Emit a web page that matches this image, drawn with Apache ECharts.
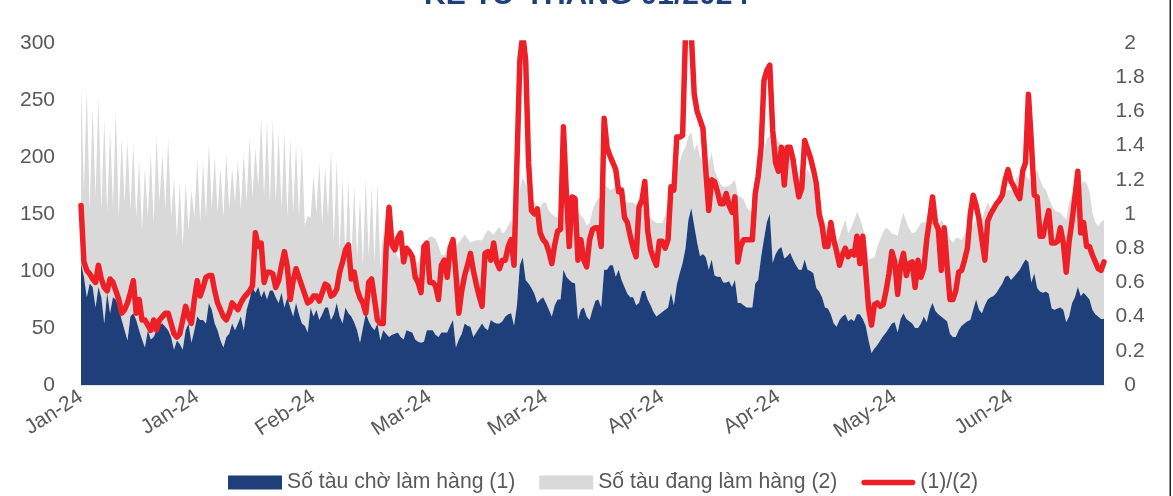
<!DOCTYPE html>
<html>
<head>
<meta charset="utf-8">
<script src="https://cdn.jsdelivr.net/npm/echarts@6/dist/echarts.min.js"></script>
<style>
  html, body { margin: 0; padding: 0; background: #ffffff; }
  #chart { width: 1173px; height: 496px; }
</style>
</head>
<body>
<div id="chart"></div>
<script>
// Twice-daily readings starting 1 Jan 2024
const START_DATE = Date.UTC(2024, 0, 1);
const STEP_HOURS = 12;
const MONTHS = ['Jan', 'Feb', 'Mar', 'Apr', 'May', 'Jun', 'Jul', 'Aug', 'Sep', 'Oct', 'Nov', 'Dec'];

// Số tàu chờ làm hàng (1)
const waiting = [
  107,95,77,89,86,68,86,77,54,81,
  63,77,75,68,57,48,39,60,63,57,
  48,40,33,48,40,42,48,52,54,51,
  48,42,31,39,36,31,48,54,37,48,
  60,57,57,54,72,66,54,48,39,33,
  42,45,54,48,54,60,48,66,75,86,
  81,86,77,83,75,83,83,77,72,81,
  68,77,68,60,72,62,54,52,46,68,
  60,66,57,62,68,68,57,62,72,60,
  54,68,63,60,55,48,37,50,63,56,
  51,48,54,39,48,
  45,42,44,45,46,
  42,40,48,47,46,40,38,37,38,48,
  48,48,44,42,46,46,46,52,57,33,
  40,45,54,52,51,42,46,50,54,50,
  48,57,55,54,54,56,60,62,63,52,
  70,105,112,92,89,85,80,72,75,77,
  72,66,60,70,75,75,101,95,92,90,
  89,57,66,68,60,57,66,74,75,68,
  101,101,105,105,95,101,92,86,80,77,
  77,70,72,82,83,75,70,64,60,62,
  64,66,68,81,70,88,98,107,120,145,
  155,140,125,113,115,112,101,110,96,95,
  95,90,90,91,86,92,72,72,70,68,
  68,68,89,92,112,128,143,150,107,115,
  119,121,111,113,116,110,105,101,101,110,
  101,100,98,85,82,77,68,67,62,54,
  51,57,60,62,56,58,56,62,62,58,
  52,39,28,32,35,39,43,46,50,54,
  55,46,58,63,58,56,54,50,50,54,
  60,55,66,72,65,62,60,58,56,45,
  42,42,48,52,54,56,57,66,75,66,
  63,70,75,77,78,81,85,89,95,96,
  92,95,98,101,106,110,108,90,98,85,
  82,81,82,80,67,66,67,68,66,55,
  60,72,77,86,78,81,78,75,66,62,
  60,58,58
];

// Số tàu đang làm hàng (2)
const working = [
  156,76,182,65,158,97,166,77,178,70,
  161,79,166,79,159,112,175,94,148,90,
  149,96,157,99,163,100,170,108,149,103,
  168,105,150,91,141,90,130,82,134,99,
  138,85,138,93,140,88,146,103,152,114,
  161,109,136,112,143,94,155,94,143,79,
  127,88,158,82,155,77,149,83,150,73,
  154,70,147,91,139,85,155,88,102,79,
  124,85,138,78,124,79,149,63,125,58,
  128,44,117,48,119,64,128,55,117,56,
  123,60,123,65,88,
  65,76,81,75,66,
  68,75,73,69,66,69,69,79,87,79,
  82,82,84,80,68,68,72,68,64,90,
  85,83,78,76,74,84,81,77,73,82,
  88,77,77,82,85,77,75,78,82,80,
  80,67,70,84,81,78,80,85,81,83,
  88,87,90,78,72,72,46,55,63,65,
  64,95,83,78,80,85,87,86,89,94,
  74,73,66,67,80,76,78,75,80,83,
  83,88,84,73,70,75,76,80,82,80,
  78,83,87,81,105,99,98,97,89,73,
  67,65,87,87,81,78,94,94,92,87,
  81,84,84,84,91,88,94,93,93,88,
  85,85,73,80,83,78,73,69,114,105,
  95,89,96,93,86,91,87,82,79,74,
  88,84,80,85,78,71,75,69,70,73,
  74,73,78,83,77,80,88,90,84,80,
  76,71,83,80,86,89,91,92,86,79,
  77,85,84,88,85,81,79,84,88,88,
  83,87,79,75,77,78,85,83,80,83,
  83,87,81,75,78,80,81,74,71,80,
  82,83,85,78,78,81,80,79,75,75,
  79,81,84,83,80,74,73,87,85,104,
  98,93,89,84,91,87,85,83,82,90,
  100,95,94,87,97,98,99,95,85,81,
  79,85,87
];

// (1)/(2)
const ratio = [
  1.05,0.72,0.67,0.65,0.62,0.60,0.70,0.62,0.57,0.55,
  0.62,0.60,0.55,0.50,0.42,0.44,0.48,0.54,0.61,0.42,
  0.50,0.38,0.38,0.35,0.32,0.38,0.32,0.38,0.40,0.42,
  0.42,0.36,0.30,0.28,0.30,0.38,0.46,0.40,0.36,0.50,
  0.61,0.52,0.57,0.63,0.64,0.64,0.55,0.48,0.44,0.40,
  0.38,0.42,0.48,0.46,0.44,0.48,0.51,0.53,0.55,0.58,
  0.89,0.81,0.83,0.60,0.66,0.66,0.65,0.57,0.61,0.70,
  0.78,0.69,0.50,0.61,0.68,0.63,0.58,0.53,0.48,0.49,
  0.52,0.52,0.49,0.54,0.59,0.58,0.52,0.53,0.56,0.66,
  0.72,0.79,0.82,0.62,0.66,0.56,0.51,0.48,0.42,0.60,
  0.62,0.50,0.38,0.36,0.36,0.80,1.04,0.82,0.79,0.86,
  0.89,0.72,0.80,0.78,0.75,0.63,0.60,0.54,0.81,0.83,
  0.60,0.60,0.58,0.50,0.70,0.73,0.63,0.80,0.85,0.65,
  0.42,0.55,0.64,0.70,0.77,0.67,0.59,0.52,0.46,0.77,
  0.78,0.73,0.83,0.72,0.68,0.73,0.73,0.81,0.85,0.70,
  1.30,1.90,2.05,1.90,1.30,1.02,1.00,1.03,0.89,0.85,
  0.83,0.78,0.71,0.82,0.90,0.91,1.51,1.12,0.81,1.10,
  1.09,0.73,0.85,0.73,0.69,0.85,0.91,0.92,0.92,0.81,
  1.56,1.39,1.34,1.30,1.26,1.13,1.14,0.98,0.95,0.87,
  0.80,0.75,1.04,1.08,1.19,0.90,0.79,0.74,0.70,0.84,
  0.84,0.80,0.85,1.16,1.14,1.45,1.45,1.46,2.05,2.05,
  2.05,1.70,1.60,1.55,1.50,1.25,1.02,1.20,1.19,1.13,
  1.06,1.06,1.12,1.05,1.01,1.10,0.72,0.81,0.85,0.85,
  0.85,0.85,1.12,1.22,1.39,1.78,1.84,1.87,1.49,1.30,
  1.25,1.39,1.17,1.39,1.39,1.32,1.20,1.10,1.15,1.43,
  1.38,1.33,1.26,1.18,1.00,0.93,0.81,0.81,0.95,0.85,
  0.78,0.70,0.76,0.80,0.75,0.78,0.76,0.87,0.71,0.87,
  0.67,0.45,0.35,0.47,0.48,0.46,0.47,0.55,0.65,0.78,
  0.72,0.53,0.70,0.77,0.64,0.71,0.72,0.57,0.73,0.63,
  0.68,0.85,0.97,1.10,0.95,0.91,0.67,0.92,0.70,0.50,
  0.50,0.55,0.66,0.67,0.73,0.80,1.00,1.11,1.05,0.97,
  0.85,0.73,0.96,1.00,1.03,1.06,1.08,1.11,1.20,1.26,
  1.19,1.16,1.12,1.09,1.25,1.30,1.70,1.42,1.11,1.10,
  0.87,0.87,0.95,1.02,0.83,0.83,0.84,0.92,0.83,0.66,
  0.84,0.96,1.10,1.25,0.89,0.95,0.81,0.81,0.76,0.72,
  0.68,0.67,0.72
];

// Axis scales
const LEFT_AXIS = { min: 0, max: 300, interval: 50 };
const RIGHT_AXIS = { min: 0, max: 2, interval: 0.2 };
const LABEL_EVERY = 40; // one date label every 20 days

const SERIES_NAMES = ['Số tàu chờ làm hàng (1)', 'Số tàu đang làm hàng (2)', '(1)/(2)'];
const TITLE_TEXT = 'KỂ TỪ THÁNG 01/2024';

const categories = waiting.map((_, i) => {
  const d = new Date(START_DATE + i * STEP_HOURS * 3600 * 1000);
  return d.toISOString().slice(0, 10);
});

const NAVY = '#1f3f7b';
const GREY = '#d9d9d9';
const RED = '#ee2027';
const TEXT = '#595959';
const FONT = '"Liberation Sans", Arial, sans-serif';

// Legend key for the ratio line: a short thick bar with rounded ends,
// padded with move-to points so it keeps its 54x14 box
const LINE_KEY = 'path://M0,0M54,14M2.8,4.2L51.2,4.2A2.8,2.8,0,0,1,51.2,9.8L2.8,9.8A2.8,2.8,0,0,1,2.8,4.2Z';

const chart = echarts.init(document.getElementById('chart'), null, { renderer: 'canvas' });

chart.setOption({
  animation: false,
  backgroundColor: '#ffffff',
  title: {
    text: TITLE_TEXT,
    left: 'center',
    top: -24,
    textStyle: { color: NAVY, fontSize: 30, fontWeight: 'bold', fontFamily: FONT }
  },
  grid: { left: 81, right: 69, top: 43, bottom: 111, containLabel: false },
  legend: {
    top: 467,
    left: 223,
    itemWidth: 54,
    itemHeight: 14,
    itemGap: 24,
    textStyle: { color: TEXT, fontSize: 21.2, fontFamily: FONT },
    data: [
      { name: SERIES_NAMES[0], icon: 'rect' },
      { name: SERIES_NAMES[1], icon: 'rect' },
      { name: SERIES_NAMES[2], icon: LINE_KEY }
    ]
  },
  xAxis: {
    type: 'category',
    data: categories,
    boundaryGap: false,
    axisLine: { lineStyle: { color: GREY, width: 1.5 } },
    axisTick: { show: false },
    splitLine: { show: false },
    axisLabel: {
      interval: (idx) => idx % LABEL_EVERY === 0,
      rotate: 33,
      margin: 10,
      color: TEXT,
      fontSize: 21,
      fontFamily: FONT,
      formatter: (v) => {
        const [y, m] = v.split('-');
        return MONTHS[+m - 1] + '-' + y.slice(2);
      }
    }
  },
  yAxis: [
    {
      type: 'value',
      min: LEFT_AXIS.min, max: LEFT_AXIS.max, interval: LEFT_AXIS.interval,
      axisLine: { show: false }, axisTick: { show: false }, splitLine: { show: false },
      axisLabel: { color: TEXT, fontSize: 21, fontFamily: FONT, margin: 26 }
    },
    {
      type: 'value',
      position: 'right',
      min: RIGHT_AXIS.min, max: RIGHT_AXIS.max, interval: RIGHT_AXIS.interval,
      axisLine: { show: false }, axisTick: { show: false }, splitLine: { show: false },
      axisLabel: { color: TEXT, fontSize: 21, fontFamily: FONT, margin: 26, align: 'center' }
    }
  ],
  series: [
    {
      name: SERIES_NAMES[0],
      type: 'line',
      stack: 'ships',
      data: waiting,
      symbol: 'none',
      itemStyle: { color: NAVY },
      lineStyle: { width: 0, color: NAVY },
      areaStyle: { color: NAVY, opacity: 1 },
      z: 2
    },
    {
      name: SERIES_NAMES[1],
      type: 'line',
      stack: 'ships',
      data: working,
      symbol: 'none',
      itemStyle: { color: GREY },
      lineStyle: { width: 0, color: GREY },
      areaStyle: { color: GREY, opacity: 1 },
      z: 1
    },
    {
      name: SERIES_NAMES[2],
      type: 'line',
      yAxisIndex: 1,
      data: ratio,
      symbol: 'none',
      itemStyle: { color: RED },
      lineStyle: { width: 5.5, color: RED, cap: 'round', join: 'round' },
      z: 5
    }
  ],
  graphic: [
    {
      type: 'rect',
      right: 2,
      top: 0,
      shape: { width: 1.5, height: 496 },
      style: { fill: '#222222' },
      silent: true
    }
  ]
});
</script>
</body>
</html>
